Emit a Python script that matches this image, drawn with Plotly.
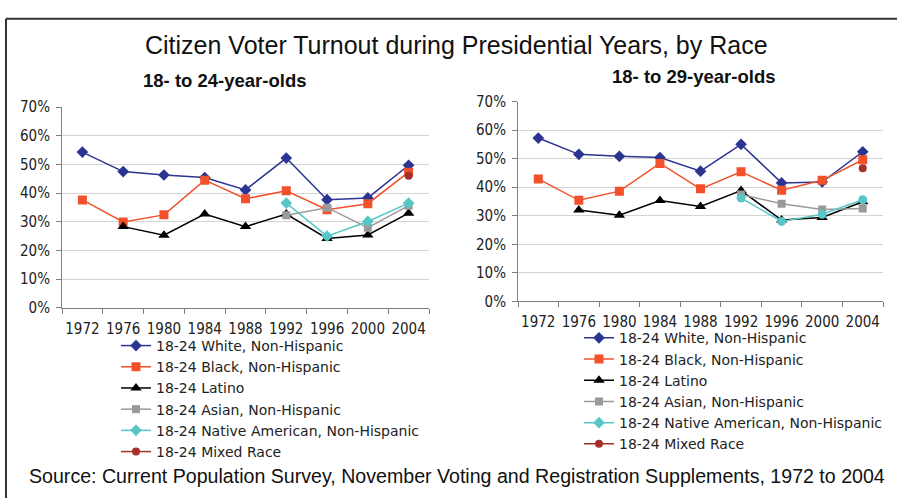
import plotly.graph_objects as go

W, H = 897, 498

years = ["1972", "1976", "1980", "1984", "1988", "1992", "1996", "2000", "2004"]

series_names = [
    "18-24 White, Non-Hispanic",
    "18-24 Black, Non-Hispanic",
    "18-24 Latino",
    "18-24 Asian, Non-Hispanic",
    "18-24 Native American, Non-Hispanic",
    "18-24 Mixed Race",
]

# Turnout (%) among 18- to 24-year-olds
white_24 = [54.3, 47.5, 46.3, 45.4, 41.1, 52.2, 37.7, 38.3, 49.7]
black_24 = [37.6, 29.9, 32.4, 44.5, 38.0, 40.8, 34.2, 36.3, 47.3]
latino_24 = [None, 28.3, 25.3, 32.7, 28.3, 32.7, 24.2, 25.4, 33.0]
asian_24 = [None, None, None, None, None, 32.3, 34.9, 27.9, 35.6]
native_24 = [None, None, None, None, None, 36.5, 25.0, 30.1, 36.5]
mixed_24 = [None, None, None, None, None, None, None, None, 46.0]

# Turnout (%) among 18- to 29-year-olds
white_29 = [57.2, 51.5, 50.8, 50.4, 45.6, 55.0, 41.5, 41.8, 52.4]
black_29 = [42.9, 35.4, 38.6, 48.3, 39.4, 45.4, 38.9, 42.4, 49.6]
latino_29 = [None, 32.0, 30.2, 35.3, 33.2, 38.8, 28.5, 29.4, 34.9]
asian_29 = [None, None, None, None, None, 37.4, 34.2, 32.2, 32.5]
native_29 = [None, None, None, None, None, 36.2, 28.0, 30.5, 35.6]
mixed_29 = [None, None, None, None, None, None, None, None, 46.6]

colors = ["#2C3492", "#F2512B", "#000000", "#9A9A9A", "#58C6C6", "#A3302A"]
symbols = ["diamond", "square", "triangle-up", "square", "diamond", "circle"]
sizes = [9, 9, 10, 8, 9, 8]

def px_x(p):
    return p / W

def px_y(p):
    return 1 - p / H

fig = go.Figure()

left_data = [white_24, black_24, latino_24, asian_24, native_24, mixed_24]
right_data = [white_29, black_29, latino_29, asian_29, native_29, mixed_29]

for i, ys in enumerate(left_data):
    fig.add_trace(go.Scatter(
        x=years, y=ys, name=series_names[i], mode="lines+markers",
        line=dict(color=colors[i], width=1.5),
        marker=dict(symbol=symbols[i], size=sizes[i], color=colors[i]),
        xaxis="x", yaxis="y", legend="legend", connectgaps=False,
    ))

for i, ys in enumerate(right_data):
    native = i == 4
    fig.add_trace(go.Scatter(
        x=years, y=ys, name=series_names[i], mode="lines+markers",
        line=dict(color=colors[i], width=1.5),
        marker=dict(symbol="circle" if native else symbols[i],
                    size=9 if native else sizes[i], color=colors[i]),
        xaxis="x2", yaxis="y2", legend="legend2",
        showlegend=not native, connectgaps=False,
    ))
    if native:
        # legend key for the circle-marked series keeps the diamond glyph
        fig.add_trace(go.Scatter(
            x=[None], y=[None], name=series_names[i], mode="lines+markers",
            line=dict(color=colors[i], width=1.5),
            marker=dict(symbol=symbols[i], size=sizes[i], color=colors[i]),
            xaxis="x2", yaxis="y2", legend="legend2",
        ))

tick_font = dict(family="DejaVu Sans Condensed, DejaVu Sans", size=15, color="#222222")
legend_font = dict(family="DejaVu Sans", size=14, color="#222222")

xaxis_common = dict(
    type="category", range=[-0.5, 8.5], showgrid=False, tickangle=0,
    showline=True, linecolor="#7F7F7F", linewidth=1,
    ticks="outside", tickson="boundaries", ticklen=5, tickcolor="#7F7F7F",
    tickfont=tick_font, fixedrange=True, ticklabelstandoff=7,
)
yaxis_common = dict(
    range=[0, 70], dtick=10, ticksuffix="%", showgrid=True,
    gridcolor="#D4D4D4", gridwidth=1, zeroline=False,
    showline=True, linecolor="#7F7F7F", linewidth=1,
    ticks="outside", ticklen=5, tickcolor="#7F7F7F",
    tickfont=tick_font, fixedrange=True, ticklabelstandoff=3,
)

fig.update_layout(
    width=W, height=H,
    margin=dict(l=0, r=0, t=0, b=0),
    paper_bgcolor="white", plot_bgcolor="white",
    font=dict(family="DejaVu Sans", color="#222222"),
    xaxis=dict(xaxis_common, domain=[px_x(62), px_x(429)], anchor="y"),
    yaxis=dict(yaxis_common, domain=[px_y(310), px_y(101.7)], anchor="x"),
    xaxis2=dict(xaxis_common, domain=[px_x(518), px_x(883)], anchor="y2"),
    yaxis2=dict(yaxis_common, domain=[px_y(303.3), px_y(96)], anchor="x2"),
    legend=dict(x=px_x(116), y=px_y(333), xanchor="left", yanchor="top",
                font=legend_font, bgcolor="rgba(0,0,0,0)", tracegroupgap=0, itemwidth=30),
    legend2=dict(x=px_x(579), y=px_y(325), xanchor="left", yanchor="top",
                 font=legend_font, bgcolor="rgba(0,0,0,0)", tracegroupgap=0, itemwidth=30),
    showlegend=True,
)

annotations = [
    dict(text="Citizen Voter Turnout during Presidential Years, by Race",
         x=px_x(457), y=px_y(37), font=dict(family="Liberation Sans", size=25, color="#111111")),
    dict(text="<b>18- to 24-year-olds</b>",
         x=px_x(224), y=px_y(74), font=dict(family="Liberation Sans", size=18.5, color="#111111")),
    dict(text="<b>18- to 29-year-olds</b>",
         x=px_x(693), y=px_y(70), font=dict(family="Liberation Sans", size=18.5, color="#111111")),
    dict(text="Source: Current Population Survey, November Voting and Registration Supplements, 1972 to 2004",
         x=px_x(457), y=px_y(485), font=dict(family="Liberation Sans", size=19.6, color="#111111")),
]
for a in annotations:
    a.update(xref="paper", yref="paper", xanchor="center", yanchor="middle", showarrow=False)
fig.update_layout(annotations=annotations)

# outer frame (top and left edges)
fig.update_layout(shapes=[
    dict(type="line", xref="paper", yref="paper", x0=px_x(6), x1=1.02, y0=px_y(10), y1=px_y(10),
         line=dict(color="#333333", width=2)),
    dict(type="line", xref="paper", yref="paper", x0=px_x(6), x1=px_x(6), y0=px_y(10), y1=-0.02,
         line=dict(color="#333333", width=2)),
])

fig.write_html("out.html")
